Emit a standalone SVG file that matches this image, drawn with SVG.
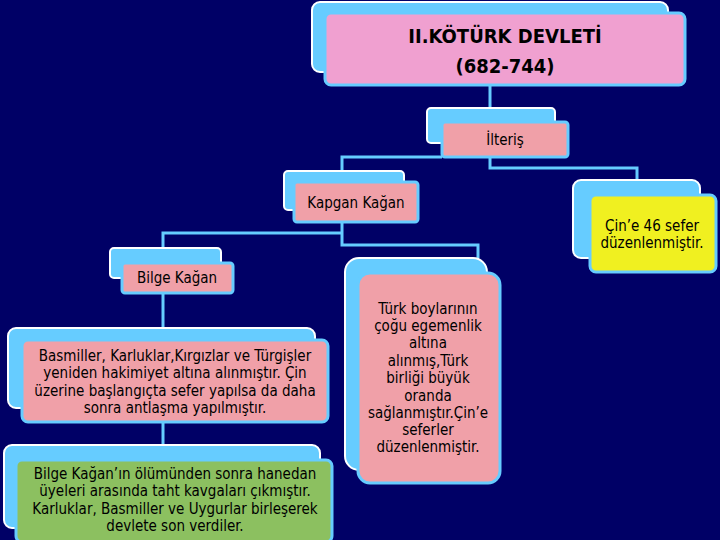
<svg xmlns="http://www.w3.org/2000/svg" width="720" height="540" viewBox="0 0 720 540">
<style>
.bk{fill:#66ccff;stroke:#ffffff;stroke-width:2}
.fr{stroke:#66ccff;stroke-width:3}
.pk{fill:#f0a0a8}
.tp{fill:#f0a0d0}
.ye{fill:#f0f020}
.gr{fill:#8cc060}
.c{fill:none;stroke:#66ccff;stroke-width:3}
text{font-family:"DejaVu Sans Condensed","Liberation Sans",sans-serif;font-size:15px;fill:#000;text-anchor:middle}
.b{font-family:"DejaVu Sans Condensed","Liberation Sans",sans-serif;font-weight:bold;font-size:20px}
</style>
<rect width="720" height="540" fill="#000066"/>
<g id="connectors">
<path class="c" d="M490 85V122"/>
<path class="c" d="M442 157H342V182"/>
<path class="c" d="M490 157V168H637V180"/>
<path class="c" d="M342 222V245H478V258"/>
<path class="c" d="M342 233H163V248"/>
<path class="c" d="M163 293V328"/>
<path class="c" d="M163 422V445"/>
</g>
<g id="title">
<rect class="bk" x="312" y="2" width="356" height="70" rx="8"/>
<rect class="fr tp" x="325" y="13" width="360" height="72" rx="6"/>
<text class="b" x="505" y="43">II.KÖTÜRK DEVLETİ</text>
<text class="b" x="505" y="73">(682-744)</text>
</g>
<g id="ilteris">
<rect class="bk" x="427" y="108" width="128" height="35" rx="4"/>
<rect class="fr pk" x="442" y="122" width="126" height="35" rx="3"/>
<text x="505" y="145">İlteriş</text>
</g>
<g id="kapgan">
<rect class="bk" x="284" y="171" width="120" height="39" rx="4"/>
<rect class="fr pk" x="294" y="182" width="124" height="40" rx="3"/>
<text x="356" y="208">Kapgan Kağan</text>
</g>
<g id="cin">
<rect class="bk" x="573" y="180" width="127" height="78" rx="8"/>
<rect class="fr ye" x="590" y="195" width="126" height="77" rx="6"/>
<text x="652" y="231">Çin’e 46 sefer</text>
<text x="652" y="248">düzenlenmiştir.</text>
</g>
<g id="bilge">
<rect class="bk" x="110" y="248" width="111" height="30" rx="4"/>
<rect class="fr pk" x="122" y="263" width="111" height="30" rx="3"/>
<text x="177" y="283">Bilge Kağan</text>
</g>
<g id="basmiller">
<rect class="bk" x="8" y="328" width="307" height="80" rx="8"/>
<rect class="fr pk" x="22" y="340" width="306" height="82" rx="6"/>
<text x="175" y="361">Basmiller, Karluklar,Kırgızlar ve Türgişler</text>
<text x="175" y="378">yeniden hakimiyet altına alınmıştır. Çin</text>
<text x="175" y="396">üzerine başlangıçta sefer yapılsa da daha</text>
<text x="175" y="413">sonra antlaşma yapılmıştır.</text>
</g>
<g id="olum">
<rect class="bk" x="4" y="445" width="316" height="83" rx="8"/>
<rect class="fr gr" x="16" y="460" width="316" height="82" rx="6"/>
<text x="175" y="479">Bilge Kağan’ın ölümünden sonra hanedan</text>
<text x="175" y="496">üyeleri arasında taht kavgaları çıkmıştır.</text>
<text x="175" y="514">Karluklar, Basmiller ve Uygurlar birleşerek</text>
<text x="175" y="531">devlete son verdiler.</text>
</g>
<g id="turk">
<rect class="bk" x="345" y="258" width="142" height="212" rx="14"/>
<rect class="fr pk" x="358" y="273" width="142" height="210" rx="12"/>
<text x="428" y="314">Türk boylarının</text>
<text x="428" y="331">çoğu egemenlik</text>
<text x="428" y="348">altına</text>
<text x="428" y="366">alınmış,Türk</text>
<text x="428" y="383">birliği büyük</text>
<text x="428" y="401">oranda</text>
<text x="428" y="418">sağlanmıştır.Çin’e</text>
<text x="428" y="435">seferler</text>
<text x="428" y="452">düzenlenmiştir.</text>
</g>
</svg>
